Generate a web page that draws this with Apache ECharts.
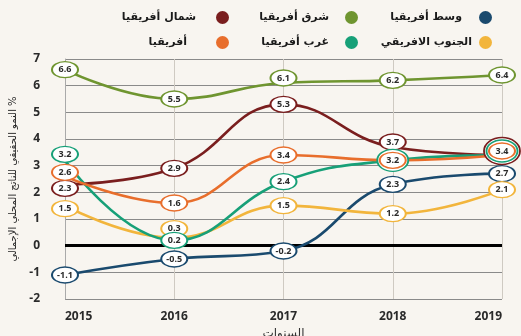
<!DOCTYPE html>
<html><head><meta charset="utf-8">
<script src="https://cdn.jsdelivr.net/npm/echarts@6/dist/echarts.min.js"></script>
<style>html,body{margin:0;padding:0;background:#f8f5f0}#c{width:521px;height:336px}</style>
</head><body><div id="c"></div>
<script>
const years = ['2015','2016','2017','2018','2019'];
const yTicks = [-2,-1,0,1,2,3,4,5,6,7];
const central = [-1.1,-0.5,-0.2,2.3,2.7];
const east = [6.6,5.5,6.1,6.2,6.4];
const north = [2.3,2.9,5.3,3.7,3.4];
const southern = [1.5,0.3,1.5,1.2,2.1];
const west = [3.2,0.2,2.4,3.2,3.4];
const africa = [2.6,1.6,3.4,3.2,3.4];
const names = {central:'وسط أفريقيا', east:'شرق أفريقيا', north:'شمال أفريقيا', southern:'الجنوب الافريقي', west:'غرب أفريقيا', africa:'أفريقيا'};

const ell = 'path://M0,10 A10,10 0 1,1 20,10 A10,10 0 1,1 0,10 Z';
const baseSize = [26,16];
function mk(key, vals, color, overrides){
  overrides = overrides || {};
  return {
    name: names[key], type:'line', data: vals.map((v,i)=>{
      const o = overrides[i] || {};
      const d = {value:v, symbolSize:o.size||baseSize, label:{show:o.hide?false:true}};
      if (o.off) d.symbolOffset = [0, o.off];
      return d;
    }),
    smooth: 0.45, symbol: ell, symbolKeepAspect:false,
    lineStyle:{color, width:2.6},
    itemStyle:{color:'#ffffff', borderColor:color, borderWidth:1.6},
    label:{show:true, position:'inside', color:'#2a2a2a', fontSize:9, fontWeight:'bold', fontFamily:'Open Sans'},
    emphasis:{disabled:true}, z:2
  };
}
const C = {central:'#1a4a6e', east:'#6f9530', north:'#7a1e1e', southern:'#f2b53c', west:'#17a078', africa:'#e86e2c'};
const series = [
  mk('central', central, C.central),
  mk('east', east, C.east, {2:{off:-5}}),
  mk('southern', southern, C.southern, {0:{off:3}, 1:{off:-9}}),
  mk('north', north, C.north, {0:{off:4}, 3:{off:-5}, 4:{size:[36,27], hide:true, off:-4}}),
  mk('west', west, C.west, {0:{off:-6}, 3:{size:[31,22], hide:true}, 4:{size:[31,22], hide:true, off:-4}}),
  mk('africa', africa, C.africa, {0:{off:-4}, 4:{off:-4}}),
];
series[0].markLine = {silent:true, symbol:'none', label:{show:false}, lineStyle:{color:'#000', width:3, type:'solid'}, data:[{yAxis:0}], z:1};

function leg(key, right, top, pad){
  return {data:[{name:names[key], itemStyle:{color:C[key], borderWidth:0}}], right, top, align:'right', orient:'horizontal',
    icon: ell, itemWidth:17, itemHeight:13, selectedMode:false,
    textStyle:{fontSize:11, color:'#1a1a1a', fontWeight:'bold', fontFamily:'DejaVu Sans', padding:[0,pad,0,0]}};
}
const chart = echarts.init(document.getElementById('c'), null, {renderer:'canvas'});
chart.setOption({
  backgroundColor:'#f8f5f0', animation:false,
  legend:[leg('central',24,6,10), leg('east',158,6,9), leg('north',287,6,13),
          leg('southern',24,31,0), leg('west',158,31,9), leg('africa',287,31,22)],
  grid:{left:65, right:19, top:59, bottom:37, containLabel:false, outerBoundsMode:'none'},
  xAxis:{type:'category', data:years, boundaryGap:false,
    name:'السنوات', nameLocation:'middle', nameGap:26, nameTextStyle:{fontSize:12, color:'#333', fontFamily:'DejaVu Sans'},
    axisLine:{show:false}, axisTick:{show:false},
    axisLabel:{color:'#2a2a2a', fontSize:12, fontWeight:'bold', fontFamily:'Open Sans', margin:12, alignMinLabel:'left', alignMaxLabel:'right'},
    splitLine:{show:true, lineStyle:{color:'#cfcac2', width:1}}},
  yAxis:{type:'value', min:-2, max:7, interval:1,
    name:'النمو الحقيقي للناتج المحلي الإجمالي %', nameLocation:'middle', nameRotate:90, nameGap:46,
    nameTextStyle:{fontSize:10, color:'#222', fontFamily:'DejaVu Sans'},
    axisLine:{show:true, lineStyle:{color:'#aaa'}}, axisTick:{show:false},
    axisLabel:{color:'#2a2a2a', fontSize:12, fontWeight:'bold', fontFamily:'Open Sans', margin:25},
    splitLine:{lineStyle:{color:'#8a8a8a', width:1}}},
  series
});
</script></body></html>
